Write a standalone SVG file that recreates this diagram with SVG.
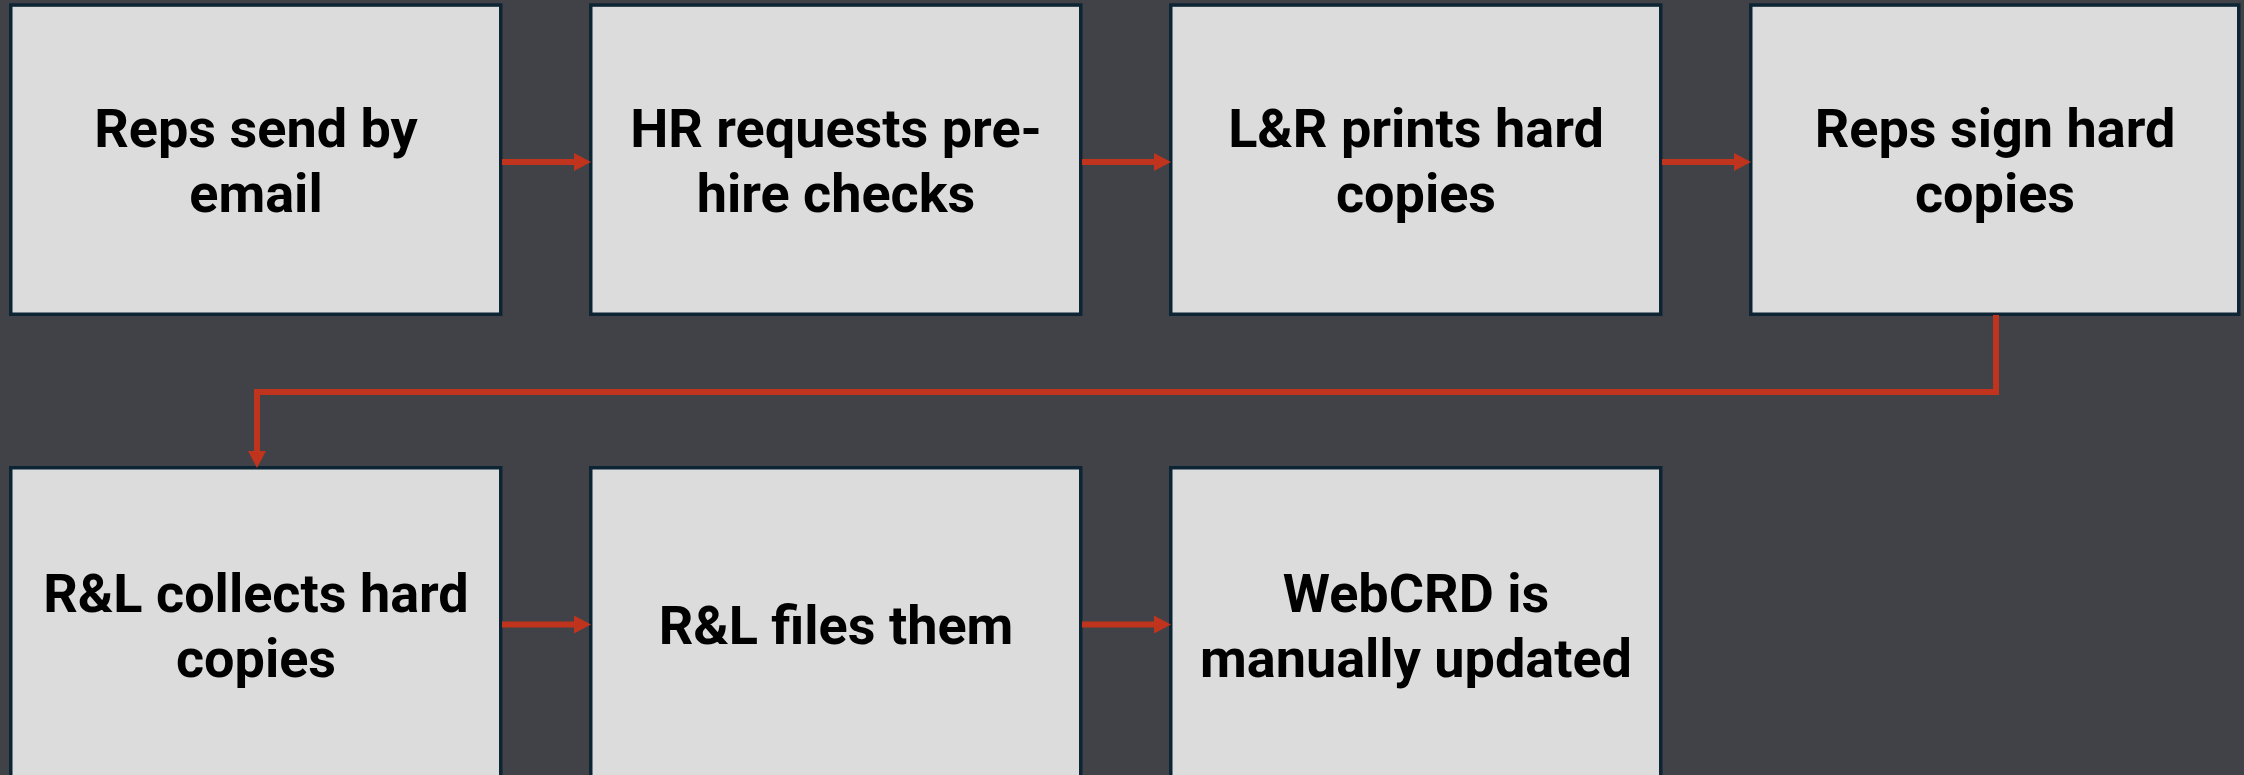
<svg xmlns="http://www.w3.org/2000/svg" width="2244" height="775" viewBox="0 0 2244 775">
<style>
.box{fill:#dcdcdc;stroke:#0c2434;stroke-width:3.5}
.t{font-family:Roboto,"Liberation Sans",sans-serif;font-weight:bold;font-size:54px;fill:#000;text-anchor:middle}
.c{fill:none;stroke:#c0341d;stroke-width:6}
</style>
<defs>
<marker id="ah" viewBox="0 0 17 18" refX="1" refY="9" markerWidth="17" markerHeight="18" markerUnits="userSpaceOnUse" orient="auto">
<path d="M0,0 L17,9 L0,18 z" fill="#c0341d"/>
</marker>
</defs>
<rect x="0" y="0" width="2244" height="775" fill="#404247"/>
<g id="n1"><rect class="box" x="10.75" y="5.05" width="490" height="309.2"/>
<text class="t" x="256" y="146.7">Reps send by</text><text class="t" x="256" y="211.7">email</text></g>
<g id="n2"><rect class="box" x="590.75" y="5.05" width="490" height="309.2"/>
<text class="t" x="836" y="146.7">HR requests pre-</text><text class="t" x="836" y="211.7">hire checks</text></g>
<g id="n3"><rect class="box" x="1170.75" y="5.05" width="490" height="309.2"/>
<text class="t" x="1416" y="146.7">L&amp;R prints hard</text><text class="t" x="1416" y="211.7">copies</text></g>
<g id="n4"><rect class="box" x="1750.75" y="5.05" width="488" height="309.2"/>
<text class="t" x="1995" y="146.7">Reps sign hard</text><text class="t" x="1995" y="211.7">copies</text></g>
<g id="n5"><rect class="box" x="10.75" y="467.75" width="490" height="309.2"/>
<text class="t" x="256" y="611.7">R&amp;L collects hard</text><text class="t" x="256" y="676.7">copies</text></g>
<g id="n6"><rect class="box" x="590.75" y="467.75" width="490" height="309.2"/>
<text class="t" x="836" y="644">R&amp;L files them</text></g>
<g id="n7"><rect class="box" x="1170.75" y="467.75" width="490" height="309.2"/>
<text class="t" x="1416" y="611.7">WebCRD is</text><text class="t" x="1416" y="676.7">manually updated</text></g>
<g id="connectors">
<path class="c" d="M502,162 H575" marker-end="url(#ah)"/>
<path class="c" d="M1082,162 H1155" marker-end="url(#ah)"/>
<path class="c" d="M1662,162 H1735" marker-end="url(#ah)"/>
<path class="c" d="M1996,315 V392 H257 V452" marker-end="url(#ah)"/>
<path class="c" d="M502,624.5 H575" marker-end="url(#ah)"/>
<path class="c" d="M1082,624.5 H1155" marker-end="url(#ah)"/>
</g>
</svg>
